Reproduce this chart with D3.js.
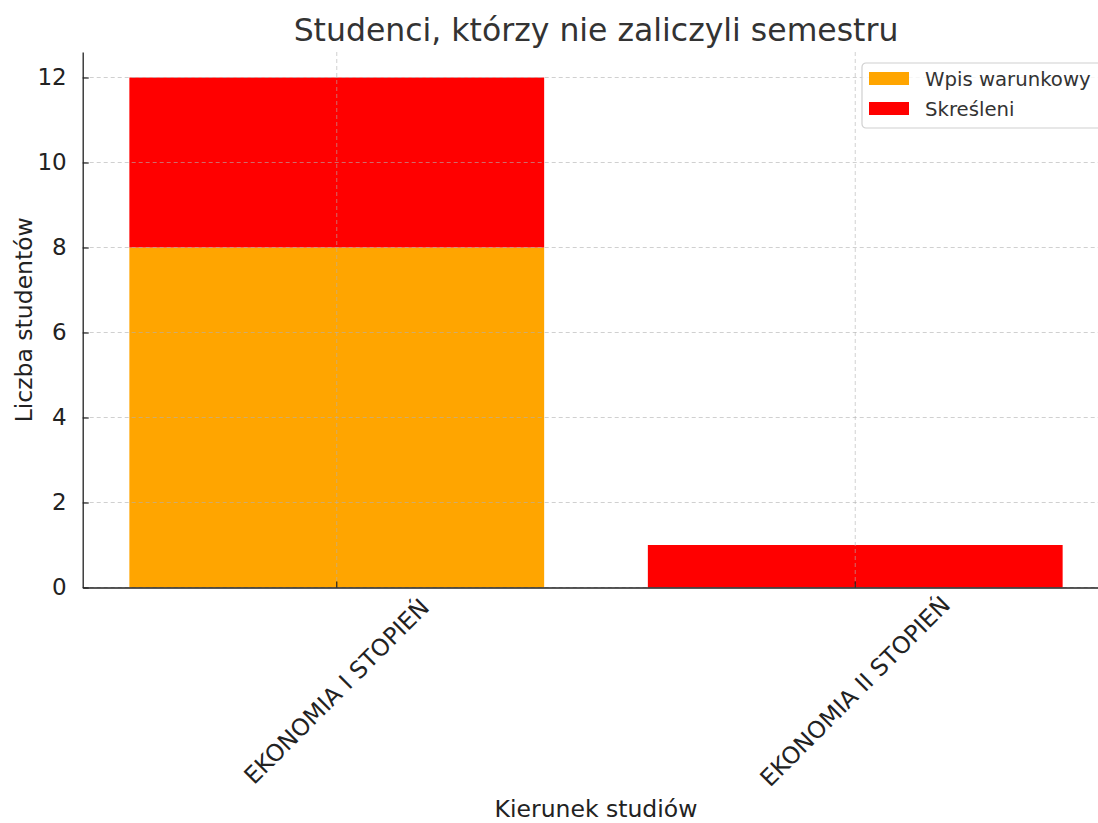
<!DOCTYPE html>
<meta charset="utf-8">
<title>Studenci, którzy nie zaliczyli semestru</title>
<script src="https://d3js.org/d3.v7.min.js"></script>
<style>
  body { margin: 0; overflow: hidden; background: #fff; }
  text { font-family: "DejaVu Sans", sans-serif; }
</style>
<div id="chart"></div>
<script>

// data
var categories = ["EKONOMIA I STOPIEŃ", "EKONOMIA II STOPIEŃ"];
var wpisWarunkowy = [8, 0];
var skresleni = [4, 1];
var seriesNames = ["Wpis warunkowy", "Skreśleni"];
var seriesColors = ["#FFA500", "#FF0000"];
var yTicks = [0, 2, 4, 6, 8, 10, 12];

var W = 1098, H = 823;
var mLeft = 82.7, mRight = 1109.3, mTop = 52, mBottom = 587.5;

var rows = categories.map(function(c, i) {
  return { cat: c, "Wpis warunkowy": wpisWarunkowy[i], "Skreśleni": skresleni[i] };
});

var svg = d3.select("#chart").append("svg")
  .attr("width", W)
  .attr("height", H);

var x = d3.scaleBand()
  .domain(categories)
  .range([mLeft, mRight])
  .paddingInner(0.2)
  .paddingOuter(0.09);

var y = d3.scaleLinear()
  .domain([0, 12.6])
  .range([mBottom, mTop]);

var color = d3.scaleOrdinal().domain(seriesNames).range(seriesColors);

// stacked bars
var stacked = d3.stack().keys(seriesNames)(rows);
svg.append("g").selectAll("g")
  .data(stacked)
  .join("g")
    .attr("fill", function(d) { return color(d.key); })
  .selectAll("rect")
  .data(function(d) { return d; })
  .join("rect")
    .attr("x", function(d) { return x(d.data.cat); })
    .attr("width", x.bandwidth())
    .attr("y", function(d) { return y(d[1]); })
    .attr("height", function(d) { return y(d[0]) - y(d[1]); });

// grid (drawn over the bars)
var grid = svg.append("g")
  .attr("stroke", "#b0b0b0")
  .attr("stroke-opacity", 0.6)
  .attr("stroke-width", 1)
  .attr("stroke-dasharray", "4,3");
grid.selectAll(".gy")
  .data(yTicks)
  .join("line")
    .attr("x1", mLeft).attr("x2", mRight)
    .attr("y1", function(d) { return y(d); })
    .attr("y2", function(d) { return y(d); });
grid.selectAll(".gx")
  .data(categories)
  .join("line")
    .attr("x1", function(d) { return x(d) + x.bandwidth() / 2; })
    .attr("x2", function(d) { return x(d) + x.bandwidth() / 2; })
    .attr("y1", mTop).attr("y2", mBottom);

// y axis
var yAxis = svg.append("g")
  .attr("transform", "translate(" + mLeft + ",0)")
  .call(d3.axisLeft(y).tickValues(yTicks).tickSizeInner(-6).tickSizeOuter(0).tickPadding(16));
yAxis.select(".domain").attr("stroke", "#222").attr("stroke-width", 1.3);
yAxis.selectAll(".tick line").attr("stroke", "#222").attr("stroke-width", 1.2);
yAxis.selectAll(".tick text")
  .attr("font-size", 23)
  .attr("fill", "#222")
  .style("font-family", "DejaVu Sans");

// x axis
var xAxis = svg.append("g")
  .attr("transform", "translate(0," + mBottom + ")")
  .call(d3.axisBottom(x).tickSizeInner(-6).tickSizeOuter(0));
xAxis.select(".domain").attr("stroke", "#222").attr("stroke-width", 1.3);
xAxis.selectAll(".tick line").attr("stroke", "#222").attr("stroke-width", 1.2);
xAxis.selectAll(".tick text")
  .attr("font-size", 23.5)
  .attr("fill", "#222")
  .attr("text-anchor", "middle")
  .attr("dy", null)
  .attr("dominant-baseline", "central")
  .attr("y", 104)
  .attr("transform", "rotate(-45,0,104)")
  .style("font-family", "DejaVu Sans");

// title and axis labels
svg.append("text")
  .attr("x", (mLeft + mRight) / 2)
  .attr("y", 41)
  .attr("text-anchor", "middle")
  .attr("font-size", 31.5)
  .attr("fill", "#333")
  .text("Studenci, którzy nie zaliczyli semestru");

svg.append("text")
  .attr("x", (mLeft + mRight) / 2)
  .attr("y", 817)
  .attr("text-anchor", "middle")
  .attr("font-size", 23.5)
  .attr("fill", "#222")
  .text("Kierunek studiów");

svg.append("text")
  .attr("transform", "translate(32," + (mTop + mBottom) / 2 + ") rotate(-90)")
  .attr("text-anchor", "middle")
  .attr("font-size", 23.5)
  .attr("fill", "#222")
  .text("Liczba studentów");

// legend
var legend = svg.append("g").attr("transform", "translate(862,63)");
legend.append("rect")
  .attr("width", 250).attr("height", 65)
  .attr("rx", 4)
  .attr("fill", "#fff").attr("fill-opacity", 0.8)
  .attr("stroke", "#d0d0d0").attr("stroke-width", 1.2);
var item = legend.selectAll(".item")
  .data(seriesNames)
  .join("g")
    .attr("transform", function(d, i) { return "translate(0," + (i * 30) + ")"; });
item.append("rect")
  .attr("x", 7).attr("y", 9)
  .attr("width", 40).attr("height", 13)
  .attr("fill", function(d) { return color(d); });
item.append("text")
  .attr("x", 63).attr("y", 16)
  .attr("dominant-baseline", "central")
  .attr("font-size", 19.7)
  .attr("fill", "#333")
  .text(function(d) { return d; });

</script>
